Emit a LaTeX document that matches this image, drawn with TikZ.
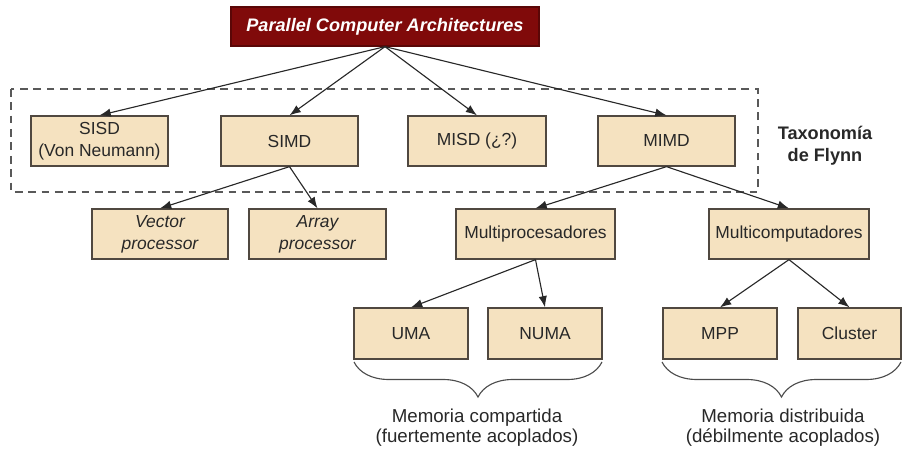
\documentclass[tikz,border=0pt]{standalone}
\usepackage{fontspec}
\setmainfont{Liberation Sans}
\usetikzlibrary{arrows.meta,decorations.pathreplacing}

\definecolor{cajafondo}{RGB}{245,226,192}
\definecolor{cajaborde}{RGB}{80,72,64}
\definecolor{rojotitulo}{RGB}{128,10,10}
\definecolor{texto}{RGB}{40,40,40}

\tikzset{
    caja/.style={draw=cajaborde, fill=cajafondo, line width=0.9pt, minimum width=3.425cm,
        minimum height=1.25cm, inner sep=0pt, align=center, text=texto,
        font=\fontsize{12.4}{15.5}\selectfont},
    titulo/.style={draw=rojotitulo!70!black, fill=rojotitulo, line width=0.9pt, minimum width=7.7cm,
        minimum height=0.975cm, inner sep=0pt, text=white,
        font=\fontsize{12.9}{15}\selectfont\bfseries\itshape},
    flecha/.style={-{Latex[length=8pt,width=6pt]}, line width=0.8pt, texto},
    llave/.style={decorate, decoration={brace, mirror, amplitude=0.875cm}, line width=0.8pt, black!70},
    nota/.style={align=center, text=texto, font=\fontsize{13.3}{14.4}\selectfont},
}

\begin{document}
\begin{tikzpicture}[x=0.025cm, y=-0.025cm]
    \useasboundingbox (0,0) rectangle (902,452);

    \draw[line width=0.9pt, black!65, dash pattern=on 5.5pt off 4pt] (11,89) rectangle (758,192);

    \node[titulo] (pca) at (385,26.5) {Parallel Computer Architectures};

    \node[caja] (sisd) at (99.5,141) {SISD\\(Von Neumann)};
    \node[caja] (simd) at (289.5,141) {SIMD};
    \node[caja, minimum width=3.45cm] (misd) at (477,141) {MISD (¿?)};
    \node[caja] (mimd) at (666.5,141) {MIMD};
    \node[nota, font=\fontsize{12.9}{15.5}\selectfont\bfseries] (flynn) at (825,146) {Taxonomía\\de Flynn};

    \node[caja, minimum width=3.4cm] (vector) at (160,234) {\itshape Vector\\\itshape processor};
    \node[caja] (array) at (317.5,234) {\itshape Array\\\itshape processor};
    \node[caja, minimum width=3.975cm] (multiproc) at (535.5,234) {Multiprocesadores};
    \node[caja, minimum width=4cm] (multicomp) at (789,234) {Multicomputadores};

    \node[caja, minimum width=2.85cm, minimum height=1.275cm] (uma) at (411,333.5) {UMA};
    \node[caja, minimum width=2.85cm, minimum height=1.275cm] (numa) at (545,333.5) {NUMA};
    \node[caja, minimum width=2.85cm, minimum height=1.275cm] (mpp) at (720,333.5) {MPP};
    \node[caja, minimum width=2.575cm, minimum height=1.275cm] (cluster) at (849.5,333.5) {Cluster};

    \coordinate (compizq) at (354,362);
    \coordinate (compder) at (602,362);
    \coordinate (distizq) at (662,362);
    \coordinate (distder) at (901,362);
    \draw[llave] (compizq) -- (compder);
    \draw[llave] (distizq) -- (distder);

    \node[nota] (memcomp) at (477,428) {Memoria compartida\\(fuertemente acoplados)};
    \node[nota] (memdist) at (783,428) {Memoria distribuida\\(débilmente acoplados)};

    \draw[flecha] (pca.south) -- (sisd.north);
    \draw[flecha] (pca.south) -- (simd.north);
    \draw[flecha] (pca.south) -- (misd.north);
    \draw[flecha] (pca.south) -- (mimd.north);
    \draw[flecha] (simd.south) -- (vector.north);
    \draw[flecha] (simd.south) -- (array.north);
    \draw[flecha] (mimd.south) -- (multiproc.north);
    \draw[flecha] (mimd.south) -- (multicomp.north);
    \draw[flecha] (multiproc.south) -- (uma.north);
    \draw[flecha] (multiproc.south) -- (numa.north);
    \draw[flecha] (multicomp.south) -- (mpp.north);
    \draw[flecha] (multicomp.south) -- (cluster.north);
\end{tikzpicture}
\end{document}
